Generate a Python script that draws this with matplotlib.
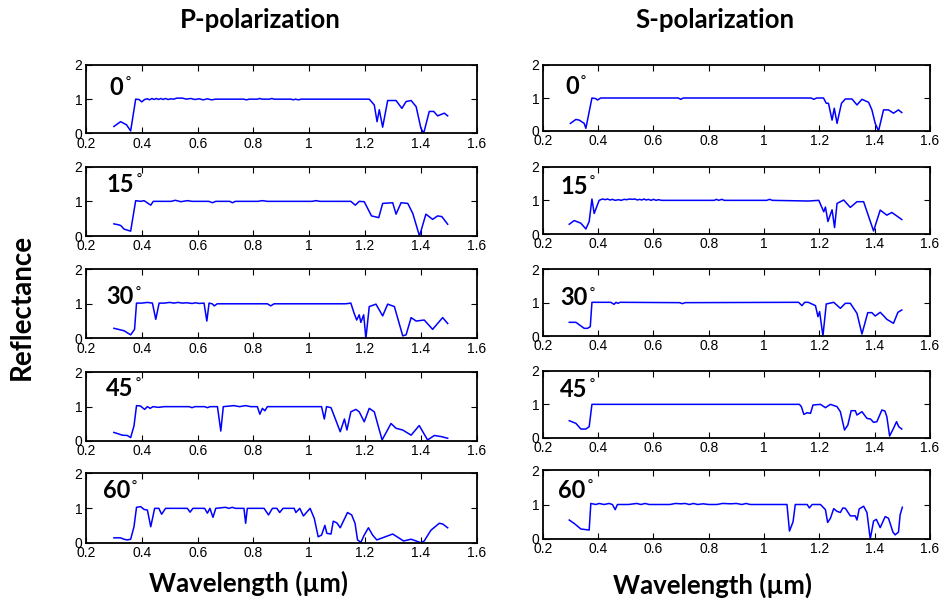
import matplotlib
matplotlib.use("Agg")
import matplotlib.pyplot as plt
from matplotlib import font_manager

# ---------------- data ----------------
angles = ["0", "15", "30", "45", "60"]
col_titles = ["P-polarization", "S-polarization"]
x_ticks = [0.2, 0.4, 0.6, 0.8, 1.0, 1.2, 1.4, 1.6]
x_tick_labels = ["0.2", "0.4", "0.6", "0.8", "1", "1.2", "1.4", "1.6"]
y_ticks = [0, 1, 2]
y_tick_labels = ["0", "1", "2"]

p0 = [(0.300,0.20),(0.324,0.34),(0.345,0.25),(0.360,0.07),(0.378,1.00),(0.390,0.99),(0.400,0.92),(0.410,0.99),
      (0.420,1.01),(0.428,0.98),(0.436,1.02),(0.444,0.99),(0.452,1.02),(0.460,0.99),(0.468,1.02),(0.476,0.99),
      (0.484,1.02),(0.494,0.99),(0.504,1.01),(0.515,1.00),(0.525,1.03),(0.545,1.03),(0.560,1.00),(0.575,1.02),
      (0.590,0.99),(0.605,1.01),(0.620,0.98),(0.635,1.01),(0.650,0.98),(0.665,1.00),(0.765,1.00),(0.775,0.98),
      (0.785,1.00),(0.815,1.00),(0.822,1.02),(0.830,1.00),(0.858,1.00),(0.866,1.02),(0.874,1.00),(0.935,1.00),
      (0.943,0.98),(0.950,1.00),(0.962,0.98),(0.970,1.00),(1.215,1.00),(1.233,0.83),(1.243,0.34),(1.251,0.69),
      (1.263,0.18),(1.281,0.96),(1.311,0.96),(1.332,0.73),(1.347,0.93),(1.365,0.96),(1.383,0.78),(1.400,0.15),
      (1.410,0.00),(1.430,0.64),(1.446,0.64),(1.460,0.51),(1.484,0.59),(1.496,0.51)]

p15 = [(0.300,0.35),(0.318,0.32),(0.325,0.30),(0.336,0.20),(0.360,0.14),(0.378,1.02),(0.396,1.00),(0.408,1.02),
       (0.432,0.89),(0.441,1.00),(0.505,1.00),(0.520,1.03),(0.540,0.99),(0.563,1.02),(0.580,1.00),(0.640,1.00),
       (0.653,0.96),(0.665,1.00),(0.715,1.00),(0.725,0.96),(0.735,1.00),(0.815,1.00),(0.832,1.02),(0.850,1.00),
       (1.010,1.00),(1.024,1.02),(1.038,1.00),(1.149,1.00),(1.165,0.89),(1.179,1.00),(1.197,0.99),(1.223,0.58),
       (1.249,0.53),(1.263,0.94),(1.299,0.96),(1.311,0.63),(1.329,0.96),(1.353,0.94),(1.371,0.65),(1.395,0.00),
       (1.418,0.63),(1.442,0.48),(1.460,0.58),(1.475,0.56),(1.496,0.34)]

p30 = [(0.300,0.29),(0.336,0.22),(0.360,0.10),(0.374,0.26),(0.381,1.02),(0.400,1.02),(0.420,1.04),(0.438,1.02),
       (0.450,0.55),(0.462,1.02),(0.480,1.02),(0.500,1.04),(0.515,1.02),(0.530,1.04),(0.545,1.02),(0.560,1.03),
       (0.580,1.01),(0.593,1.03),(0.605,1.01),(0.623,1.02),(0.633,0.50),(0.641,1.02),(0.652,1.00),(0.660,0.94),
       (0.670,1.00),(0.850,1.00),(0.862,0.94),(0.874,1.00),(1.130,1.00),(1.149,1.02),(1.161,0.72),(1.170,0.53),
       (1.179,0.68),(1.185,0.46),(1.195,0.68),(1.203,0.00),(1.215,0.92),(1.239,0.99),(1.263,0.65),(1.281,0.99),
       (1.305,0.92),(1.335,0.07),(1.347,0.10),(1.365,0.60),(1.383,0.50),(1.412,0.53),(1.442,0.26),(1.478,0.60),
       (1.496,0.43)]

p45 = [(0.300,0.25),(0.330,0.17),(0.348,0.16),(0.360,0.10),(0.372,0.44),(0.381,1.03),(0.395,1.02),(0.410,0.92),
       (0.420,1.00),(0.430,0.95),(0.440,1.00),(0.460,0.98),(0.480,1.00),(0.570,1.00),(0.580,0.97),(0.590,1.00),
       (0.625,1.00),(0.635,0.97),(0.645,1.00),(0.671,1.00),(0.683,0.29),(0.692,1.00),(0.730,1.03),(0.750,1.00),
       (0.772,1.03),(0.790,1.00),(0.814,1.00),(0.823,0.78),(0.832,0.95),(0.841,0.88),(0.850,1.00),(1.044,1.00),
       (1.054,0.64),(1.062,1.00),(1.078,0.97),(1.111,0.27),(1.126,0.64),(1.135,0.32),(1.149,0.85),(1.167,0.92),
       (1.179,0.85),(1.197,0.56),(1.215,0.95),(1.233,0.85),(1.261,0.03),(1.293,0.51),(1.311,0.37),(1.335,0.32),
       (1.365,0.17),(1.394,0.45),(1.424,0.03),(1.448,0.16),(1.472,0.13),(1.496,0.08)]

p60 = [(0.300,0.14),(0.324,0.14),(0.336,0.10),(0.348,0.08),(0.360,0.10),(0.372,0.46),(0.381,1.02),(0.396,1.04),
       (0.408,0.96),(0.420,0.94),(0.432,0.46),(0.446,0.99),(0.461,0.99),(0.471,0.82),(0.485,0.99),(0.563,0.99),
       (0.573,0.88),(0.583,0.99),(0.625,0.99),(0.635,0.85),(0.644,0.99),(0.655,0.73),(0.665,0.99),(0.700,1.02),
       (0.712,0.99),(0.724,1.02),(0.735,0.99),(0.766,0.99),(0.772,0.56),(0.778,0.99),(0.838,0.99),(0.854,0.80),
       (0.868,0.99),(0.884,0.99),(0.894,0.87),(0.906,0.99),(0.946,0.99),(0.952,0.87),(0.966,0.99),(0.979,0.77),
       (1.003,0.99),(1.018,0.70),(1.032,0.17),(1.044,0.22),(1.056,0.50),(1.063,0.27),(1.078,0.25),(1.086,0.62),
       (1.099,0.57),(1.111,0.43),(1.137,0.87),(1.152,0.80),(1.164,0.56),(1.173,0.08),(1.185,0.01),(1.197,0.22),
       (1.212,0.43),(1.227,0.22),(1.242,0.08),(1.299,0.25),(1.338,0.05),(1.365,0.10),(1.400,0.00),(1.412,0.05),
       (1.436,0.36),(1.466,0.56),(1.478,0.54),(1.496,0.43)]

s0 = [(0.300,0.23),(0.320,0.35),(0.332,0.33),(0.350,0.23),(0.356,0.08),(0.378,1.00),(0.392,0.98),(0.398,0.94),
      (0.410,1.00),(0.690,1.00),(0.699,0.96),(0.708,1.00),(1.170,1.00),(1.180,0.96),(1.190,1.00),(1.215,1.00),
      (1.225,0.84),(1.233,0.84),(1.246,0.33),(1.254,0.69),(1.264,0.23),(1.280,0.84),(1.294,0.97),(1.318,0.97),
      (1.336,0.79),(1.354,0.96),(1.378,0.87),(1.390,0.64),(1.402,0.23),(1.414,0.00),(1.432,0.64),(1.450,0.64),
      (1.468,0.54),(1.486,0.64),(1.498,0.56)]

s15 = [(0.296,0.29),(0.314,0.40),(0.338,0.32),(0.356,0.15),(0.368,0.37),(0.378,1.04),(0.386,0.61),(0.404,1.00),
       (0.416,1.04),(0.426,1.02),(0.434,1.04),(0.444,1.01),(0.452,1.03),(0.462,1.00),(0.474,1.02),(0.484,1.00),
       (0.494,1.03),(0.504,1.02),(0.514,1.04),(0.524,1.03),(0.534,1.04),(0.542,1.01),(0.550,1.03),(0.558,1.01),
       (0.566,1.04),(0.574,1.01),(0.582,1.03),(0.592,1.00),(0.600,1.03),(0.610,1.00),(0.618,1.02),(0.630,1.00),
       (0.820,1.00),(0.828,1.03),(0.836,1.00),(0.848,1.03),(0.856,1.00),(1.010,1.00),(1.020,1.03),(1.030,1.00),
       (1.160,0.98),(1.198,1.00),(1.207,0.83),(1.216,0.66),(1.222,0.80),(1.231,0.37),(1.246,0.72),(1.255,0.19),
       (1.264,0.91),(1.288,1.01),(1.312,0.79),(1.336,0.96),(1.360,0.96),(1.396,0.09),(1.420,0.71),(1.444,0.56),
       (1.462,0.64),(1.498,0.43)]

s30 = [(0.296,0.41),(0.320,0.41),(0.350,0.23),(0.362,0.23),(0.372,0.28),(0.378,1.01),(0.446,1.01),(0.458,0.95),
       (0.465,1.01),(0.472,0.98),(0.480,1.01),(0.695,1.00),(0.705,0.97),(0.715,1.00),(1.125,1.01),(1.137,0.91),
       (1.147,1.01),(1.160,1.01),(1.186,0.91),(1.195,0.58),(1.201,0.73),(1.213,0.00),(1.225,0.96),(1.252,1.01),
       (1.276,0.83),(1.294,0.98),(1.312,0.98),(1.336,0.68),(1.354,0.06),(1.375,0.70),(1.390,0.70),(1.402,0.60),
       (1.420,0.71),(1.432,0.61),(1.444,0.50),(1.468,0.38),(1.484,0.71),(1.498,0.78)]

s45 = [(0.296,0.51),(0.320,0.43),(0.338,0.26),(0.356,0.26),(0.368,0.33),(0.378,1.00),(1.128,1.00),(1.135,0.93),
       (1.144,0.70),(1.156,0.75),(1.168,0.73),(1.177,0.98),(1.204,1.00),(1.222,0.90),(1.240,1.00),(1.264,0.93),
       (1.276,0.78),(1.291,0.23),(1.303,0.38),(1.315,0.81),(1.330,0.81),(1.336,0.68),(1.354,0.78),(1.372,0.58),
       (1.385,0.56),(1.396,0.46),(1.408,0.48),(1.426,0.83),(1.437,0.80),(1.444,0.63),(1.454,0.05),(1.468,0.28),
       (1.479,0.48),(1.487,0.33),(1.498,0.26)]

s60 = [(0.296,0.55),(0.314,0.45),(0.338,0.29),(0.368,0.26),(0.374,1.03),(0.392,1.00),(0.404,1.03),(0.422,1.00),
       (0.440,1.03),(0.452,1.00),(0.462,0.85),(0.470,1.00),(0.510,1.00),(0.540,1.03),(0.555,1.00),(0.570,1.03),
       (0.585,1.00),(0.660,1.00),(0.680,1.03),(0.700,1.02),(0.715,1.03),(0.730,1.00),(0.745,1.03),(0.760,1.00),
       (0.780,1.02),(0.800,1.00),(0.830,1.00),(0.850,1.03),(0.880,1.02),(0.900,1.03),(0.920,1.00),(0.935,1.03),
       (0.950,1.00),(1.083,1.00),(1.092,0.23),(1.105,0.50),(1.113,1.00),(1.156,1.00),(1.164,0.90),(1.174,1.00),
       (1.204,1.00),(1.222,0.85),(1.230,0.48),(1.240,0.60),(1.252,0.88),(1.264,0.80),(1.276,0.77),(1.285,0.90),
       (1.294,0.89),(1.312,0.67),(1.330,0.67),(1.336,0.55),(1.344,0.87),(1.360,0.95),(1.372,0.77),(1.384,0.00),
       (1.396,0.52),(1.406,0.57),(1.420,0.33),(1.438,0.65),(1.450,0.60),(1.466,0.20),(1.474,0.12),(1.486,0.20),
       (1.492,0.70),(1.500,0.92)]

p_series = [p0, p15, p30, p45, p60]
s_series = [s0, s15, s30, s45, s60]

# ---------------- style ----------------
def has_font(name):
    try:
        font_manager.findfont(font_manager.FontProperties(family=name), fallback_to_default=False)
        return True
    except Exception:
        return False

tick_family = "Liberation Sans Narrow" if has_font("Liberation Sans Narrow") else "Liberation Sans"
bold_family = ["Lato", "DejaVu Sans"]

W, H = 945, 606
fig = plt.figure(figsize=(W / 100, H / 100), dpi=100)

# axes boxes in pixels: (left, right) per column, (top, bottom) per row
col_lr = [(86, 476.7), (542.7, 930)]
rows_tb = [
    [(65, 133.3), (166.7, 236), (269.3, 338.3), (372.3, 441), (473.3, 542.7)],
    [(65, 131), (166.7, 234), (269.3, 336), (371, 437.7), (470, 539)],
]
label_pos = [
    [(0.061, 0.67), (0.053, 0.74), (0.051, 0.60), (0.051, 0.76), (0.043, 0.745)],
    [(0.058, 0.67), (0.046, 0.71), (0.045, 0.57), (0.045, 0.73), (0.040, 0.70)],
]

for c, series in enumerate([p_series, s_series]):
    l, r = col_lr[c]
    for i, data in enumerate(series):
        t, b = rows_tb[c][i]
        ax = fig.add_axes([l / W, 1 - b / H, (r - l) / W, (b - t) / H])
        xs = [p[0] for p in data]
        ys = [p[1] for p in data]
        ax.plot(xs, ys, color="#0000ff", lw=1.1)
        ax.set_xlim(0.2, 1.6)
        ax.set_ylim(0, 2)
        ax.set_xticks(x_ticks)
        ax.set_xticklabels(x_tick_labels, family=tick_family, fontsize=10)
        ax.set_yticks(y_ticks)
        ax.set_yticklabels(y_tick_labels, family=tick_family, fontsize=10)
        ax.tick_params(direction="in", top=True, right=True, length=4, width=0.8, pad=2.5)
        for sp in ax.spines.values():
            sp.set_linewidth(1.3)
        lx, ly = label_pos[c][i]
        txt = ax.text(lx, ly, angles[i], transform=ax.transAxes, family=bold_family,
                      fontweight="bold", fontsize=17, ha="left", va="center")
        ax.annotate("\u00b0", xy=(1.0, 1.0), xycoords=txt, xytext=(0.6, 0),
                    textcoords="offset points", family=["DejaVu Sans"], fontsize=10,
                    ha="left", va="top")

fig.text(260 / W, 1 - 20 / H, col_titles[0], family=bold_family, fontweight="bold",
         fontsize=18.5, ha="center", va="center")
fig.text(715 / W, 1 - 20 / H, col_titles[1], family=bold_family, fontweight="bold",
         fontsize=18.5, ha="center", va="center")
fig.text(249 / W, 1 - 583 / H, "Wavelength (\u00b5m)", family=bold_family, fontweight="bold",
         fontsize=18.5, ha="center", va="center")
fig.text(713 / W, 1 - 585 / H, "Wavelength (\u00b5m)", family=bold_family, fontweight="bold",
         fontsize=18.5, ha="center", va="center")
fig.text(22 / W, 1 - 307 / H, "Reflectance", family=bold_family, fontweight="bold",
         fontsize=20, ha="center", va="center", rotation=90)

fig.savefig("out.png", dpi=100, facecolor="white")
